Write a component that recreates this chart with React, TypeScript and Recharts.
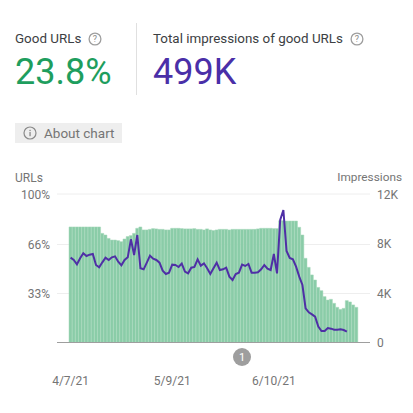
import React from "react";
import { ComposedChart, Bar, Line, XAxis, YAxis, CartesianGrid, ReferenceLine } from "recharts";

const dates = [
  "4/7/21","4/8/21","4/9/21","4/10/21","4/11/21","4/12/21","4/13/21","4/14/21","4/15/21","4/16/21","4/17/21","4/18/21",
  "4/19/21","4/20/21","4/21/21","4/22/21","4/23/21","4/24/21","4/25/21","4/26/21","4/27/21","4/28/21","4/29/21","4/30/21",
  "5/1/21","5/2/21","5/3/21","5/4/21","5/5/21","5/6/21","5/7/21","5/8/21","5/9/21","5/10/21","5/11/21","5/12/21",
  "5/13/21","5/14/21","5/15/21","5/16/21","5/17/21","5/18/21","5/19/21","5/20/21","5/21/21","5/22/21","5/23/21","5/24/21",
  "5/25/21","5/26/21","5/27/21","5/28/21","5/29/21","5/30/21","5/31/21","6/1/21","6/2/21","6/3/21","6/4/21","6/5/21",
  "6/6/21","6/7/21","6/8/21","6/9/21","6/10/21","6/11/21","6/12/21","6/13/21","6/14/21","6/15/21","6/16/21","6/17/21",
  "6/18/21","6/19/21","6/20/21","6/21/21","6/22/21","6/23/21","6/24/21","6/25/21","6/26/21","6/27/21","6/28/21","6/29/21",
  "6/30/21","7/1/21","7/2/21","7/3/21","7/4/21","7/5/21","7/6/21",
];
const goodUrls = [
  77.8,77.8,77.8,77.8,77.8,77.8,77.8,77.8,77.8,77.8,73.5,72.4,70.1,69,69,68.6,67.9,69.7,71.3,72,73.5,76.9,77.8,75.8,
  75.8,76.2,76.7,76.5,76.2,76.2,75.8,75.8,76.9,76.9,76.9,76.7,76.5,76.5,76.5,76.7,76.2,76.2,75.8,76.5,75.8,75.4,75.8,76.2,
  76.2,76.2,75.8,76.2,76.2,76.2,76.2,76.2,76.2,76.2,76.2,76.5,76.9,76.9,76.9,76.9,76.7,76.7,82,82,81.8,81.8,81.8,81.8,
  77.6,72.4,56.7,50.6,45.5,42.1,37.1,34.9,30.9,28.6,29.1,26.4,23.7,22.3,23,28.2,27.3,25.3,23.7,
];
const impressions: (number | null)[] = [
  6856,6668,6317,6802,7206,6991,7099,7153,6264,6075,6479,6856,6668,6883,6964,6533,6237,6668,6883,8338,7072,8688,5994,5913,
  6452,7018,6775,6668,6452,5806,5536,5644,6290,6264,6102,6371,5725,5590,6048,6102,6722,6210,6398,5994,5536,5994,6452,5859,
  5913,6048,5321,5051,5536,5644,6290,6183,6344,5644,5644,5671,5913,6264,5967,5859,7153,5590,9900,10709,7395,6829,6722,6129,
  5321,4647,2761,2438,2276,2088,1280,929,929,1172,1118,1037,1037,1064,1010,876,null,null,null,
];
const xTicks = ["4/7/21", "5/9/21", "6/10/21"];
const leftTicks = [33, 66, 100];
const rightTicks = [0, 4000, 8000, 12000];
const rightTickLabels = ["0", "4K", "8K", "12K"];

const data = dates.map((date, i) => ({ date, good: goodUrls[i], imp: impressions[i] }));

const FONT = "Roboto, sans-serif";
const GREY = "#757575";

const HelpIcon = ({ x, y }: { x: number; y: number }) => (
  <svg style={{ position: "absolute", left: x, top: y }} width={14} height={14} viewBox="0 0 14 14">
    <circle cx={7} cy={7} r={5.9} fill="none" stroke="#9e9e9e" strokeWidth={1.3} />
    <text x={7} y={10.2} textAnchor="middle" fontSize={9} fontFamily={FONT} fill="#8a8a8a">?</text>
  </svg>
);

const abs = (left: number, top: number, extra: React.CSSProperties): React.CSSProperties => ({
  position: "absolute", left, top, whiteSpace: "nowrap", fontFamily: FONT, lineHeight: 1, ...extra,
});

const LeftTick = ({ y, payload }: any) => (
  <text x={50} y={y + 4.5} textAnchor="end" fontSize={12} fontFamily={FONT} fill={GREY}>{`${payload.value}%`}</text>
);
const RightTick = ({ y, payload }: any) => (
  <text x={377} y={y + 4.5} textAnchor="start" fontSize={12} fontFamily={FONT} fill={GREY}>
    {rightTickLabels[rightTicks.indexOf(payload.value)]}
  </text>
);

export default function App() {
  return (
    <div style={{ position: "absolute", left: 0, top: 0, width: 413, height: 413, background: "#fff", overflow: "hidden" }}>
      <div style={abs(15, 32, { fontSize: 13.4, color: "#3c4043" })}>Good URLs</div>
      <HelpIcon x={88} y={32} />
      <div style={abs(15, 54, { fontSize: 36, color: "#1e9e5e" })}>23.8%</div>
      <div style={{ position: "absolute", left: 136, top: 23, width: 1, height: 72, background: "#e0e0e0" }} />
      <div style={abs(153, 32, { fontSize: 13.4, color: "#3c4043" })}>Total impressions of good URLs</div>
      <HelpIcon x={350} y={32} />
      <div style={abs(153, 54, { fontSize: 36, color: "#4a2fa8" })}>499K</div>

      <div style={{ position: "absolute", left: 15, top: 123, width: 107, height: 20, background: "#eeeeee" }} />
      <svg style={{ position: "absolute", left: 22, top: 126 }} width={16} height={14} viewBox="0 0 16 14">
        <circle cx={8} cy={7} r={6} fill="none" stroke="#8a8a8a" strokeWidth={1.2} />
        <rect x={7.4} y={6} width={1.3} height={4.2} fill="#8a8a8a" />
        <rect x={7.4} y={3.8} width={1.3} height={1.3} fill="#8a8a8a" />
      </svg>
      <div style={abs(44, 126.5, { fontSize: 13.5, color: GREY })}>About chart</div>

      <div style={abs(15, 171.5, { fontSize: 12, color: GREY })}>URLs</div>
      <div style={{ ...abs(0, 171.5, { fontSize: 11.8, color: GREY }), left: "auto", right: 11 }}>Impressions</div>

      <div style={{ position: "absolute", left: 0, top: 0 }}>
        <ComposedChart
          width={413}
          height={413}
          data={data}
          margin={{ top: 194, right: 0, bottom: 0, left: 0 }}
          barCategoryGap={0}
        >
          <CartesianGrid horizontal vertical={false} stroke="#eeeeee" yAxisId="left" />
          <XAxis
            dataKey="date"
            ticks={xTicks}
            interval={0}
            axisLine={false}
            tickLine={false}
            height={70.5}
            padding={{ left: 12, right: 12 }}
            tick={{ fontSize: 12, fill: GREY, fontFamily: FONT }}
            tickMargin={28}
          />
          <YAxis
            yAxisId="left"
            orientation="left"
            domain={[0, 100]}
            ticks={leftTicks}
            axisLine={false}
            tickLine={false}
            width={57}
            tick={LeftTick}
          />
          <YAxis
            yAxisId="right"
            orientation="right"
            domain={[0, 12000]}
            ticks={rightTicks}
            axisLine={false}
            tickLine={false}
            width={43}
            tick={RightTick}
          />
          <ReferenceLine yAxisId="left" y={0} stroke="#9e9e9e" strokeWidth={1} />
          <Bar yAxisId="left" dataKey="good" fill="#8accA8" stroke="#a6d9bb" strokeWidth={0.5} isAnimationActive={false} />
          <Line
            yAxisId="right"
            dataKey="imp"
            type="linear"
            stroke="#4f2fa6"
            strokeWidth={2}
            dot={false}
            connectNulls={false}
            isAnimationActive={false}
          />
        </ComposedChart>
      </div>

      <svg style={{ position: "absolute", left: 233, top: 348 }} width={18} height={18} viewBox="0 0 18 18">
        <circle cx={9} cy={9} r={9} fill="#9e9e9e" />
        <text x={9} y={13} textAnchor="middle" fontSize={11} fontFamily={FONT} fill="#fff">1</text>
      </svg>
    </div>
  );
}
